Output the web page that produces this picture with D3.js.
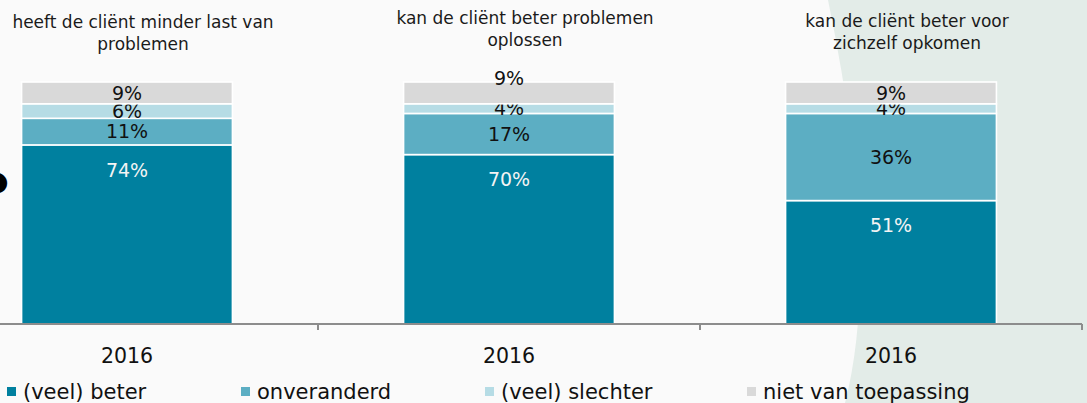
<!DOCTYPE html>
<html>
<head>
<meta charset="utf-8">
<script src="https://cdn.jsdelivr.net/npm/d3@7"></script>
<style>
  body { margin: 0; background: #fafafa; }
  svg { display: block; font-family: "DejaVu Sans", Verdana, sans-serif; }
</style>
</head>
<body>
<svg width="1087" height="403"></svg>
<script>
const W = 1087, H = 403;

// data
const questions = [
  ["heeft de cliënt minder last van", "problemen"],
  ["kan de cliënt beter problemen", "oplossen"],
  ["kan de cliënt beter voor", "zichzelf opkomen"]
];
const years = ["2016", "2016", "2016"];
const series = ["(veel) beter", "onveranderd", "(veel) slechter", "niet van toepassing"];
const beter = [74, 70, 51];
const onveranderd = [11, 17, 36];
const slechter = [6, 4, 4];
const nvt = [9, 9, 9];

const colors = ["#00809f", "#5caec3", "#b6dce5", "#d9d9d9"];
const BASE_Y = 324;
const TOP_Y = 82;

const svg = d3.select("svg");

// light green background shape on the right
svg.append("path")
  .attr("d", `M828,0 Q882,260 845,${H} L${W},${H} L${W},0 Z`)
  .attr("fill", "#e3ece8");

const keys = questions.map((q, i) => "q" + i);

const x = d3.scaleBand()
  .domain(keys)
  .range([-64, 1082])
  .paddingInner(0.448)
  .paddingOuter(0.224);

const xGroup = d3.scaleBand().domain(keys).range([-64, 1082]).padding(0);

const y = d3.scaleLinear().domain([0, 100]).range([BASE_Y, TOP_Y]);

const rows = keys.map((k, i) => ({
  key: k,
  [series[0]]: beter[i],
  [series[1]]: onveranderd[i],
  [series[2]]: slechter[i],
  [series[3]]: nvt[i]
}));

const stacked = d3.stack().keys(series)(rows);

// bars
const layers = svg.append("g").selectAll("g")
  .data(stacked)
  .join("g")
  .attr("fill", (d, i) => colors[i]);

layers.selectAll("rect")
  .data(d => d)
  .join("rect")
  .attr("x", d => x(d.data.key))
  .attr("y", d => y(d[1]))
  .attr("width", x.bandwidth())
  .attr("height", d => y(d[0]) - y(d[1]))
  .attr("stroke", "#ffffff")
  .attr("stroke-width", 1.6);

// value labels (first series sits near the top of its segment, like Excel "inside end")
const labelNudge = { "q1|3": -15 };
layers.each(function (layer, si) {
  d3.select(this).selectAll("text")
    .data(layer)
    .join("text")
    .attr("x", d => x(d.data.key) + x.bandwidth() / 2)
    .attr("y", d => {
      const base = si === 0 ? y(d[1]) + 25 : (y(d[0]) + y(d[1])) / 2;
      return base + (labelNudge[d.data.key + "|" + si] || 0);
    })
    .attr("dy", "0.36em")
    .attr("text-anchor", "middle")
    .attr("font-size", 19)
    .attr("fill", si === 0 ? "#f4f4f4" : "#111")
    .text(d => (d[1] - d[0]) + "%");
});

// x axis: line with ticks at band boundaries, year labels at centres
const axis = svg.append("g").attr("transform", `translate(0,${BASE_Y})`);
axis.append("line")
  .attr("x1", xGroup.range()[0]).attr("x2", xGroup.range()[1])
  .attr("stroke", "#8c8c8c").attr("stroke-width", 2);
axis.selectAll("line.tick")
  .data(keys)
  .join("line")
  .attr("class", "tick")
  .attr("x1", d => xGroup(d) + xGroup.bandwidth())
  .attr("x2", d => xGroup(d) + xGroup.bandwidth())
  .attr("y1", 0).attr("y2", 6)
  .attr("stroke", "#8c8c8c").attr("stroke-width", 2);
axis.selectAll("text")
  .data(keys)
  .join("text")
  .attr("x", d => x(d) + x.bandwidth() / 2)
  .attr("y", 32)
  .attr("dy", "0.36em")
  .attr("text-anchor", "middle")
  .attr("font-size", 20.5)
  .attr("fill", "#111")
  .text((d, i) => years[i]);

// titles above each bar
const titleDy = [0, -4, -1];
svg.append("g").selectAll("text")
  .data(questions)
  .join("text")
  .attr("text-anchor", "middle")
  .attr("font-size", 17)
  .attr("fill", "#1a1a1a")
  .attr("transform", (d, i) => `translate(${x(keys[i]) + x.bandwidth() / 2 + 16},${22 + titleDy[i]})`)
  .selectAll("tspan")
  .data(d => d)
  .join("tspan")
  .attr("x", 0)
  .attr("y", (d, j) => j * 22)
  .attr("dy", "0.36em")
  .text(d => d);

// legend
const legendX = [7, 241, 485, 747];
const legend = svg.append("g").attr("transform", "translate(0,391)")
  .selectAll("g")
  .data(series)
  .join("g")
  .attr("transform", (d, i) => `translate(${legendX[i]},0)`);
legend.append("rect")
  .attr("x", 0).attr("y", -4)
  .attr("width", 9).attr("height", 9)
  .attr("fill", (d, i) => colors[i]);
legend.append("text")
  .attr("x", 16)
  .attr("dy", "0.36em")
  .attr("font-size", 21)
  .attr("fill", "#111")
  .text(d => d);

// clipped glyph at the left edge
svg.append("text")
  .attr("x", -15).attr("y", 180)
  .attr("dy", "0.36em")
  .attr("font-size", 27)
  .attr("font-weight", "bold")
  .attr("fill", "#000")
  .text("●");
</script>
</body>
</html>
